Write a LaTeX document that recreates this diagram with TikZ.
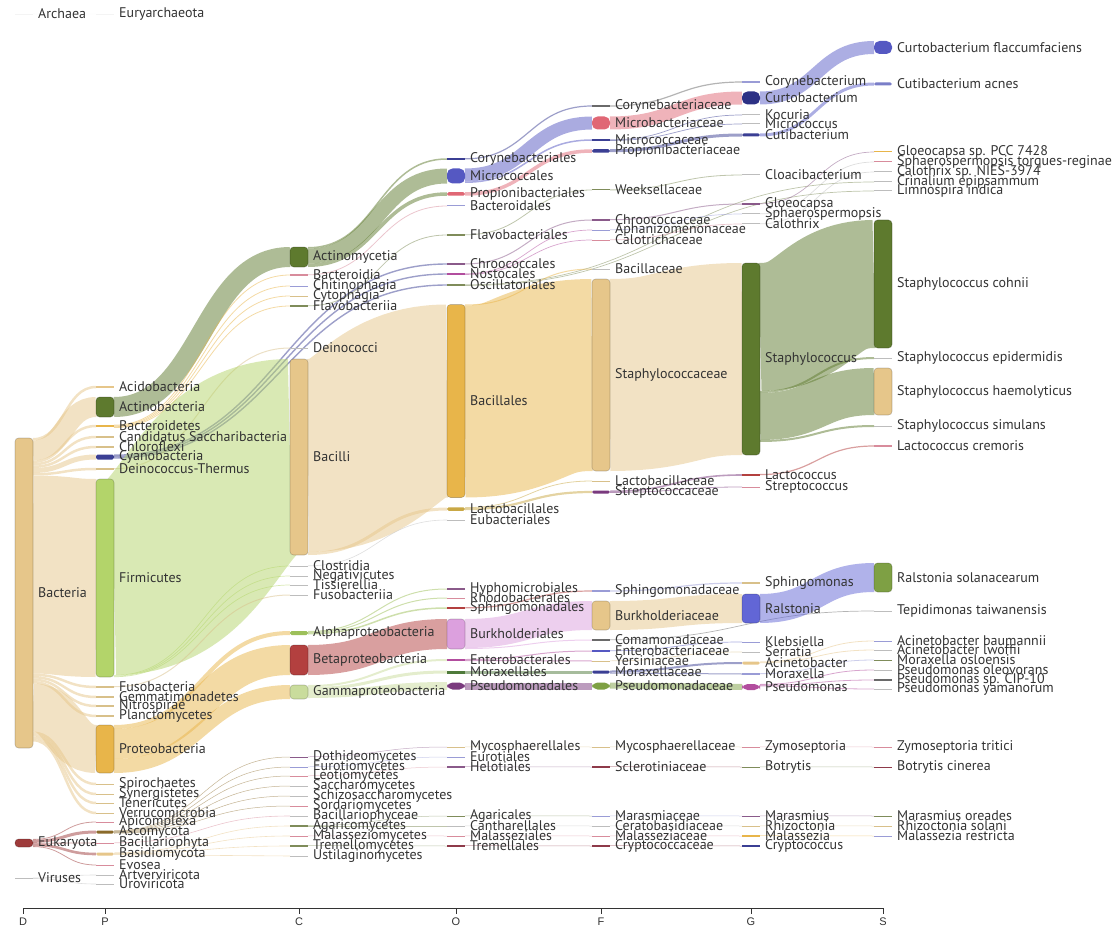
\documentclass[tikz,border=0pt]{standalone}
\usepackage{fontspec}
\setmainfont{PT Sans}
\newfontfamily\axfont{Liberation Sans}
\usetikzlibrary{calc,backgrounds}

\definecolor{txt}{HTML}{333333}
\definecolor{tanC}{HTML}{E6C68A}
\definecolor{oliveC}{HTML}{5E7A2E}
\definecolor{lgreenC}{HTML}{B3D46A}
\definecolor{goldC}{HTML}{E8B54A}
\definecolor{navyC}{HTML}{3B3F94}
\definecolor{dnavyC}{HTML}{2D3185}
\definecolor{bluepC}{HTML}{5558C2}
\definecolor{pinkC}{HTML}{E06775}
\definecolor{redC}{HTML}{B3403F}
\definecolor{dredC}{HTML}{9E3B3B}
\definecolor{lilacC}{HTML}{DCA0DE}
\definecolor{purpleC}{HTML}{7A3A7E}
\definecolor{greenC}{HTML}{7EA044}
\definecolor{palegC}{HTML}{C9DC9C}
\definecolor{blueC}{HTML}{6266D6}
\definecolor{magC}{HTML}{B24D9E}
\definecolor{agreenC}{HTML}{9DC05A}
\definecolor{brownC}{HTML}{8A6A2A}
\definecolor{lgoldC}{HTML}{C9A845}
\definecolor{greyC}{HTML}{BDBDBD}
\definecolor{faintC}{HTML}{F4F4F4}
\definecolor{dgreyC}{HTML}{6A6A6A}
\definecolor{lavC}{HTML}{9A9CD6}
\definecolor{roseC}{HTML}{D88C9C}
\definecolor{olvC}{HTML}{7F8C5A}
\definecolor{plumC}{HTML}{8A5A8A}
\definecolor{sandC}{HTML}{D8C08A}
\definecolor{dgreenC}{HTML}{4E7A3A}
\definecolor{drC}{HTML}{8E3A4A}
\definecolor{acnC}{HTML}{7A7EC8}
\definecolor{curtlC}{HTML}{5A5EC8}

\tikzset{
  bar/.style={rectangle, inner sep=0pt, outer sep=0pt, minimum width=18pt},
  big/.style={rounded corners=3.5pt, draw=black, draw opacity=0.22, line width=0.6pt},
  round/.style={rounded corners=5.5pt},
  pill/.style={rounded corners=1.6pt},
  lab/.style={anchor=west, inner sep=0pt, text=txt, font=\fontsize{14}{15}\selectfont},
  link/.style={draw opacity=0.5},
  axisline/.style={draw=txt, line width=0.9pt},
  axlab/.style={text=txt, font=\axfont\fontsize{11}{12}\selectfont, inner sep=0pt}
}

\def\xD{24}\def\xP{105}\def\xC{299}\def\xO{456}\def\xF{601}\def\xG{751}\def\xS{883}

% bar node with its label: [options]{name}{x}{y}{height}{colour}{label}
\newcommand\bnode[7][]{%
  \node[bar,#1,minimum height=#5pt,fill=#6] (#2) at (#3,#4) {};
  \node[lab] (#2-t) at ([xshift=5pt]#2.east) {#7};}

% links: \lsrc{source}{colour} then \flw{target}{width}
\newcommand\lsrc[2]{\gdef\cursrc{#1}\gdef\curcol{#2}\gdef\soffv{0}}
\newcommand\flw[2]{%
  \draw[link, line width=#2pt, draw=\curcol] let \p1=(\cursrc.north east), \p2=(#1.west),
     \p3=(\x1,{\y1-(\soffv+0.5*#2)*1pt}) in
     (\p3) .. controls ({0.5*\x3+0.5*\x2},\y3) and ({0.5*\x3+0.5*\x2},\y2) .. (\p2);%
  \pgfmathparse{\soffv+#2}\xdef\soffv{\pgfmathresult}}

\begin{document}
\begin{tikzpicture}[x=1pt,y=-1pt]
\useasboundingbox (0,0) rectangle (1112,931);

% ---------------- D
\bnode{archaea}{\xD}{14}{0.5}{faintC}{Archaea}
\bnode[big]{bacteria}{\xD}{593}{310}{tanC}{Bacteria}
\bnode[big]{eukaryota}{\xD}{843}{8}{dredC}{Eukaryota}
\bnode{viruses}{\xD}{878}{0.8}{greyC}{Viruses}

% ---------------- P
\bnode{eury}{\xP}{14}{0.5}{faintC}{Euryarchaeota}
\bnode{acido}{\xP}{387}{2}{tanC}{Acidobacteria}
\bnode[big]{actinob}{\xP}{407}{20}{oliveC}{Actinobacteria}
\bnode{bacteroidetes}{\xP}{426}{2.5}{goldC}{Bacteroidetes}
\bnode{candidatus}{\xP}{437}{1.5}{sandC}{Candidatus Saccharibacteria}
\bnode{chloroflexi}{\xP}{447}{1.5}{sandC}{Chloroflexi}
\bnode[pill]{cyanob}{\xP}{457}{5}{navyC}{Cyanobacteria}
\bnode{deino}{\xP}{469}{1.5}{sandC}{Deinococcus-Thermus}
\bnode[big]{firmicutes}{\xP}{578}{198}{lgreenC}{Firmicutes}
\bnode{fuso}{\xP}{687}{1.5}{sandC}{Fusobacteria}
\bnode{gemma}{\xP}{697}{1.5}{sandC}{Gemmatimonadetes}
\bnode{nitro}{\xP}{706}{1.5}{sandC}{Nitrospirae}
\bnode{plancto}{\xP}{716}{1.5}{sandC}{Planctomycetes}
\bnode[big]{proteob}{\xP}{749}{48}{goldC}{Proteobacteria}
\bnode{spiro}{\xP}{784}{1}{sandC}{Spirochaetes}
\bnode{syner}{\xP}{794}{1}{sandC}{Synergistetes}
\bnode{teneri}{\xP}{803}{1}{sandC}{Tenericutes}
\bnode{verruco}{\xP}{813}{1}{sandC}{Verrucomicrobia}
\bnode{apicom}{\xP}{822}{1}{roseC}{Apicomplexa}
\bnode[pill]{ascomy}{\xP}{832}{3}{brownC}{Ascomycota}
\bnode{bacillario}{\xP}{843}{1}{roseC}{Bacillariophyta}
\bnode[pill]{basidio}{\xP}{854}{3}{tanC}{Basidiomycota}
\bnode{evosea}{\xP}{865}{1}{roseC}{Evosea}
\bnode{artver}{\xP}{875}{1}{greyC}{Artverviricota}
\bnode{urovir}{\xP}{884}{1}{greyC}{Uroviricota}

% ---------------- C
\bnode[big]{actinomycetia}{\xC}{257}{20}{oliveC}{Actinomycetia}
\bnode{bacteroidia}{\xC}{275}{1.2}{roseC}{Bacteroidia}
\bnode{chitino}{\xC}{286}{1}{lavC}{Chitinophagia}
\bnode{cytoph}{\xC}{296}{1}{sandC}{Cytophagia}
\bnode{flavobacteriia}{\xC}{306}{1.2}{olvC}{Flavobacteriia}
\bnode{deinococci}{\xC}{348}{1}{greyC}{Deinococci}
\bnode[big]{bacilli}{\xC}{457}{196}{tanC}{Bacilli}
\bnode{clostridia}{\xC}{566}{1}{greyC}{Clostridia}
\bnode{negativ}{\xC}{576}{1}{greyC}{Negativicutes}
\bnode{tissier}{\xC}{585}{1}{greyC}{Tissierellia}
\bnode{fusobacteriia}{\xC}{595}{1}{greyC}{Fusobacteriia}
\bnode[pill]{alpha}{\xC}{633}{4}{agreenC}{Alphaproteobacteria}
\bnode[big]{beta}{\xC}{660}{30}{redC}{Betaproteobacteria}
\bnode[big]{gamma}{\xC}{692}{14}{palegC}{Gammaproteobacteria}
\bnode{dothideo}{\xC}{757}{1}{plumC}{Dothideomycetes}
\bnode{eurotio}{\xC}{767}{1}{lavC}{Eurotiomycetes}
\bnode{leotio}{\xC}{776}{1}{roseC}{Leotiomycetes}
\bnode{saccharo}{\xC}{786}{1}{greyC}{Saccharomycetes}
\bnode{schizo}{\xC}{796}{1}{greyC}{Schizosaccharomycetes}
\bnode{sordario}{\xC}{806}{1}{roseC}{Sordariomycetes}
\bnode{bacillariophyceae}{\xC}{816}{1}{greyC}{Bacillariophyceae}
\bnode{agarico}{\xC}{826}{1.5}{olvC}{Agaricomycetes}
\bnode{malassezio}{\xC}{836}{1}{roseC}{Malasseziomycetes}
\bnode{tremello}{\xC}{846}{1.2}{olvC}{Tremellomycetes}
\bnode{ustilagino}{\xC}{856}{1}{greyC}{Ustilaginomycetes}

% ---------------- O
\bnode{corynebales}{\xO}{159}{1.5}{navyC}{Corynebacteriales}
\bnode[round]{micrococcales}{\xO}{176}{15}{bluepC}{Micrococcales}
\bnode[pill]{propionibales}{\xO}{194}{3.5}{pinkC}{Propionibacteriales}
\bnode{bacteroidales}{\xO}{206}{1}{lavC}{Bacteroidales}
\bnode{flavobacteriales}{\xO}{235}{1.2}{olvC}{Flavobacteriales}
\bnode{chroococcales}{\xO}{264}{1.2}{plumC}{Chroococcales}
\bnode{nostocales}{\xO}{274}{1.2}{magC}{Nostocales}
\bnode{oscillatoriales}{\xO}{285}{1.2}{olvC}{Oscillatoriales}
\bnode[big]{bacillales}{\xO}{401}{193}{goldC}{Bacillales}
\bnode[pill]{lactobacillales}{\xO}{509}{3.5}{lgoldC}{Lactobacillales}
\bnode{eubacteriales}{\xO}{520}{1}{greyC}{Eubacteriales}
\bnode{hyphomicrob}{\xO}{589}{1.2}{plumC}{Hyphomicrobiales}
\bnode{rhodobact}{\xO}{598}{1}{roseC}{Rhodobacterales}
\bnode{sphingomonadales}{\xO}{608}{1.5}{redC}{Sphingomonadales}
\bnode[big]{burkholderiales}{\xO}{634}{30}{lilacC}{Burkholderiales}
\bnode{enterobacterales}{\xO}{660}{2}{magC}{Enterobacterales}
\bnode{moraxellales}{\xO}{672}{3}{dgreenC}{Moraxellales}
\bnode[round]{pseudomonadales}{\xO}{686}{7}{purpleC}{Pseudomonadales}
\bnode{mycosph}{\xO}{747}{1}{sandC}{Mycosphaerellales}
\bnode{eurotiales}{\xO}{757}{1}{lavC}{Eurotiales}
\bnode{helotiales}{\xO}{767}{1.2}{plumC}{Helotiales}
\bnode{agaricales}{\xO}{816}{1}{olvC}{Agaricales}
\bnode{cantharellales}{\xO}{826}{1}{greyC}{Cantharellales}
\bnode{malasseziales}{\xO}{836}{1}{roseC}{Malasseziales}
\bnode{tremellales}{\xO}{846}{1.2}{drC}{Tremellales}

% ---------------- F
\bnode{corynebaceae}{\xF}{106}{1.2}{dgreyC}{Corynebacteriaceae}
\bnode[round]{microbacteriaceae}{\xF}{123}{13}{pinkC}{Microbacteriaceae}
\bnode{micrococcaceae}{\xF}{140}{1.2}{navyC}{Micrococcaceae}
\bnode[pill]{propionibaceae}{\xF}{151}{3.5}{navyC}{Propionibacteriaceae}
\bnode{weeksellaceae}{\xF}{190}{1}{olvC}{Weeksellaceae}
\bnode{chroococcaceae}{\xF}{220}{1.5}{plumC}{Chroococcaceae}
\bnode{aphanizomenonaceae}{\xF}{230}{1}{lavC}{Aphanizomenonaceae}
\bnode{calotrichaceae}{\xF}{240}{1}{roseC}{Calotrichaceae}
\bnode{bacillaceae}{\xF}{269}{1}{greyC}{Bacillaceae}
\bnode[big]{staphylococcaceae}{\xF}{375}{192}{tanC}{Staphylococcaceae}
\bnode{lactobacillaceae}{\xF}{481}{1}{sandC}{Lactobacillaceae}
\bnode[pill]{streptococcaceae}{\xF}{492}{3}{purpleC}{Streptococcaceae}
\bnode{sphingomonadaceae}{\xF}{591}{1.2}{lavC}{Sphingomonadaceae}
\bnode[big]{burkholderiaceae}{\xF}{615.5}{29}{tanC}{Burkholderiaceae}
\bnode{comamonadaceae}{\xF}{640}{1.2}{dgreyC}{Comamonadaceae}
\bnode{enterobacteriaceae}{\xF}{651}{1.2}{bluepC}{Enterobacteriaceae}
\bnode{yersiniaceae}{\xF}{661}{1}{sandC}{Yersiniaceae}
\bnode[pill]{moraxellaceae}{\xF}{672}{3}{navyC}{Moraxellaceae}
\bnode[round]{pseudomonadaceae}{\xF}{686}{7}{greenC}{Pseudomonadaceae}
\bnode{mycosphaerellaceae}{\xF}{747}{1}{sandC}{Mycosphaerellaceae}
\bnode{sclerotiniaceae}{\xF}{767}{1.2}{drC}{Sclerotiniaceae}
\bnode{marasmiaceae}{\xF}{816}{1}{lavC}{Marasmiaceae}
\bnode{ceratobasidiaceae}{\xF}{826}{1}{greyC}{Ceratobasidiaceae}
\bnode{malasseziaceae}{\xF}{836}{1}{roseC}{Malasseziaceae}
\bnode{cryptococcaceae}{\xF}{846}{1.2}{drC}{Cryptococcaceae}

% ---------------- G
\bnode{corynebacterium}{\xG}{82}{1.2}{lavC}{Corynebacterium}
\bnode[round]{curtobacterium}{\xG}{98}{13}{dnavyC}{Curtobacterium}
\bnode{kocuria}{\xG}{115}{1}{greyC}{Kocuria}
\bnode{micrococcus}{\xG}{124}{1}{greyC}{Micrococcus}
\bnode[pill]{cutibacterium}{\xG}{135}{3}{navyC}{Cutibacterium}
\bnode{cloacibacterium}{\xG}{175}{1}{greyC}{Cloacibacterium}
\bnode{gloeocapsa}{\xG}{204}{1.2}{plumC}{Gloeocapsa}
\bnode{sphaerospermopsis}{\xG}{214}{1}{greyC}{Sphaerospermopsis}
\bnode{calothrix}{\xG}{224}{1}{greyC}{Calothrix}
\bnode[big]{staphylococcus}{\xG}{359}{192}{oliveC}{Staphylococcus}
\bnode{lactococcus}{\xG}{475}{2}{redC}{Lactococcus}
\bnode{streptococcus}{\xG}{487}{1}{roseC}{Streptococcus}
\bnode{sphingomonas}{\xG}{583}{1.5}{sandC}{Sphingomonas}
\bnode[big]{ralstonia}{\xG}{608.5}{29}{blueC}{Ralstonia}
\bnode{klebsiella}{\xG}{642}{1}{lavC}{Klebsiella}
\bnode{serratia}{\xG}{652}{1}{greyC}{Serratia}
\bnode[pill]{acinetobacter}{\xG}{663}{3}{tanC}{Acinetobacter}
\bnode{moraxella}{\xG}{674}{1.5}{lavC}{Moraxella}
\bnode[round]{pseudomonas}{\xG}{687}{6}{magC}{Pseudomonas}
\bnode{zymoseptoria}{\xG}{747}{1}{roseC}{Zymoseptoria}
\bnode{botrytis}{\xG}{767}{1}{olvC}{Botrytis}
\bnode{marasmius}{\xG}{816}{1}{plumC}{Marasmius}
\bnode{rhizoctonia}{\xG}{826}{1}{sandC}{Rhizoctonia}
\bnode{malassezia}{\xG}{836}{1.2}{goldC}{Malassezia}
\bnode{cryptococcus}{\xG}{846}{1.2}{navyC}{Cryptococcus}

% ---------------- S
\bnode[round]{curtoflacc}{\xS}{47.5}{13}{bluepC}{Curtobacterium flaccumfaciens}
\bnode[pill]{cutiacnes}{\xS}{84}{3}{acnC}{Cutibacterium acnes}
\bnode{gloeosp}{\xS}{152}{1}{goldC}{Gloeocapsa sp. PCC 7428}
\bnode{sphaerotr}{\xS}{162}{1}{roseC}{Sphaerospermopsis torques-reginae}
\bnode{calothrixsp}{\xS}{172}{1}{greyC}{Calothrix sp. NIES-3974}
\bnode{crinalium}{\xS}{182}{1}{greyC}{Crinalium epipsammum}
\bnode{limnospira}{\xS}{191}{1}{greyC}{Limnospira indica}
\bnode[big]{cohnii}{\xS}{284}{128}{oliveC}{Staphylococcus cohnii}
\bnode{epidermidis}{\xS}{358}{1}{greyC}{Staphylococcus epidermidis}
\bnode[big]{haemolyticus}{\xS}{391.5}{47}{tanC}{Staphylococcus haemolyticus}
\bnode{simulans}{\xS}{426}{1}{greyC}{Staphylococcus simulans}
\bnode{cremoris}{\xS}{446}{1.2}{roseC}{Lactococcus cremoris}
\bnode[big]{ralstsol}{\xS}{577.5}{29}{greenC}{Ralstonia solanacearum}
\bnode{tepidimonas}{\xS}{611}{1}{greyC}{Tepidimonas taiwanensis}
\bnode{acinbaum}{\xS}{641}{1}{lavC}{Acinetobacter baumannii}
\bnode{acinlwof}{\xS}{650}{1}{greyC}{Acinetobacter lwoffii}
\bnode{moraxosl}{\xS}{660}{1}{olvC}{Moraxella osloensis}
\bnode{pseuoleo}{\xS}{670}{1}{greyC}{Pseudomonas oleovorans}
\bnode{pseucip}{\xS}{680}{1.2}{dgreyC}{Pseudomonas sp. CIP-10}
\bnode{pseuyam}{\xS}{689}{1}{greyC}{Pseudomonas yamanorum}
\bnode{zymotritici}{\xS}{747}{1}{roseC}{Zymoseptoria tritici}
\bnode{botrytiscin}{\xS}{767}{1}{drC}{Botrytis cinerea}
\bnode{marasore}{\xS}{816}{1}{olvC}{Marasmius oreades}
\bnode{rhizosol}{\xS}{826}{1}{sandC}{Rhizoctonia solani}
\bnode{malassres}{\xS}{836}{1}{lavC}{Malassezia restricta}

% ---------------- links
\begin{pgfonlayer}{background}
\lsrc{archaea}{faintC}\flw{eury}{0.4}
\lsrc{bacteria}{tanC}
\flw{acido}{2.5}\flw{actinob}{20}\flw{bacteroidetes}{2.5}\flw{candidatus}{2.5}
\flw{chloroflexi}{2.5}\flw{cyanob}{5}\flw{deino}{2.5}\flw{firmicutes}{198}
\flw{fuso}{2.5}\flw{gemma}{2.5}\flw{nitro}{2.5}\flw{plancto}{2.5}\flw{proteob}{48}
\flw{spiro}{2.5}\flw{syner}{2.5}\flw{teneri}{2.5}\flw{verruco}{2.5}
\lsrc{eukaryota}{dredC}
\flw{apicom}{0.8}\flw{ascomy}{3}\flw{bacillario}{0.8}\flw{basidio}{2.6}\flw{evosea}{0.8}
\lsrc{viruses}{greyC}\flw{artver}{0.6}\flw{urovir}{0.6}

\lsrc{actinob}{oliveC}\flw{actinomycetia}{20}
\lsrc{bacteroidetes}{goldC}\flw{bacteroidia}{0.8}\flw{chitino}{0.8}\flw{cytoph}{0.8}\flw{flavobacteriia}{0.8}
\lsrc{cyanob}{navyC}\flw{chroococcales}{1.4}\flw{nostocales}{1.4}\flw{oscillatoriales}{1.4}
\lsrc{deino}{sandC}\flw{deinococci}{1}
\lsrc{firmicutes}{lgreenC}\flw{bacilli}{196}\flw{clostridia}{0.7}\flw{negativ}{0.7}\flw{tissier}{0.7}
\lsrc{fuso}{sandC}\flw{fusobacteriia}{1}
\lsrc{proteob}{goldC}\flw{alpha}{4}\flw{beta}{30}\flw{gamma}{14}
\lsrc{ascomy}{brownC}\flw{dothideo}{0.5}\flw{eurotio}{0.5}\flw{leotio}{0.5}\flw{saccharo}{0.5}\flw{schizo}{0.5}\flw{sordario}{0.5}
\lsrc{bacillario}{roseC}\flw{bacillariophyceae}{0.6}
\lsrc{basidio}{tanC}\flw{agarico}{0.6}\flw{malassezio}{0.6}\flw{tremello}{0.6}\flw{ustilagino}{0.6}

\lsrc{actinomycetia}{oliveC}\flw{corynebales}{1.5}\flw{micrococcales}{15}\flw{propionibales}{3.5}
\lsrc{bacteroidia}{roseC}\flw{bacteroidales}{0.8}
\lsrc{flavobacteriia}{olvC}\flw{flavobacteriales}{0.8}
\lsrc{bacilli}{tanC}\flw{bacillales}{193}\flw{lactobacillales}{3}
\lsrc{clostridia}{greyC}\flw{eubacteriales}{0.6}
\lsrc{alpha}{agreenC}\flw{hyphomicrob}{1}\flw{rhodobact}{1}\flw{sphingomonadales}{1.5}
\lsrc{beta}{redC}\flw{burkholderiales}{30}
\lsrc{gamma}{palegC}\flw{enterobacterales}{2}\flw{moraxellales}{3}\flw{pseudomonadales}{8}
\lsrc{dothideo}{plumC}\flw{mycosph}{0.5}
\lsrc{eurotio}{lavC}\flw{eurotiales}{0.5}
\lsrc{leotio}{roseC}\flw{helotiales}{0.5}
\lsrc{agarico}{olvC}\flw{agaricales}{0.5}\flw{cantharellales}{0.5}
\lsrc{malassezio}{roseC}\flw{malasseziales}{0.5}
\lsrc{tremello}{olvC}\flw{tremellales}{0.5}

\lsrc{corynebales}{navyC}\flw{corynebaceae}{1.2}
\lsrc{micrococcales}{bluepC}\flw{microbacteriaceae}{13}\flw{micrococcaceae}{1.5}
\lsrc{propionibales}{pinkC}\flw{propionibaceae}{3.5}
\lsrc{flavobacteriales}{olvC}\flw{weeksellaceae}{0.8}
\lsrc{chroococcales}{plumC}\flw{chroococcaceae}{1}
\lsrc{nostocales}{magC}\flw{aphanizomenonaceae}{0.7}\flw{calotrichaceae}{0.7}
\lsrc{oscillatoriales}{olvC}\flw{crinalium}{0.7}\flw{limnospira}{0.7}
\lsrc{bacillales}{goldC}\flw{bacillaceae}{1}\flw{staphylococcaceae}{192}
\lsrc{lactobacillales}{lgoldC}\flw{lactobacillaceae}{0.8}\flw{streptococcaceae}{2.2}
\lsrc{sphingomonadales}{redC}\flw{sphingomonadaceae}{1.2}
\lsrc{burkholderiales}{lilacC}\flw{burkholderiaceae}{29}\flw{comamonadaceae}{1}
\lsrc{enterobacterales}{magC}\flw{enterobacteriaceae}{1}\flw{yersiniaceae}{1}
\lsrc{moraxellales}{dgreenC}\flw{moraxellaceae}{3}
\lsrc{pseudomonadales}{purpleC}\flw{pseudomonadaceae}{7}
\lsrc{mycosph}{sandC}\flw{mycosphaerellaceae}{0.5}
\lsrc{helotiales}{plumC}\flw{sclerotiniaceae}{0.5}
\lsrc{agaricales}{olvC}\flw{marasmiaceae}{0.5}
\lsrc{cantharellales}{greyC}\flw{ceratobasidiaceae}{0.5}
\lsrc{malasseziales}{roseC}\flw{malasseziaceae}{0.5}
\lsrc{tremellales}{drC}\flw{cryptococcaceae}{0.5}

\lsrc{corynebaceae}{dgreyC}\flw{corynebacterium}{1.2}
\lsrc{microbacteriaceae}{pinkC}\flw{curtobacterium}{13}
\lsrc{micrococcaceae}{navyC}\flw{kocuria}{0.7}\flw{micrococcus}{0.7}
\lsrc{propionibaceae}{navyC}\flw{cutibacterium}{3}
\lsrc{weeksellaceae}{olvC}\flw{cloacibacterium}{0.8}
\lsrc{chroococcaceae}{plumC}\flw{gloeocapsa}{1}
\lsrc{aphanizomenonaceae}{lavC}\flw{sphaerospermopsis}{0.7}
\lsrc{calotrichaceae}{roseC}\flw{calothrix}{0.7}
\lsrc{staphylococcaceae}{tanC}\flw{staphylococcus}{192}
\lsrc{streptococcaceae}{purpleC}\flw{lactococcus}{1.6}\flw{streptococcus}{0.8}
\lsrc{sphingomonadaceae}{lavC}\flw{sphingomonas}{1.2}
\lsrc{burkholderiaceae}{tanC}\flw{ralstonia}{29}
\lsrc{comamonadaceae}{dgreyC}\flw{tepidimonas}{0.7}
\lsrc{enterobacteriaceae}{bluepC}\flw{klebsiella}{0.7}
\lsrc{yersiniaceae}{sandC}\flw{serratia}{0.7}
\lsrc{moraxellaceae}{navyC}\flw{acinetobacter}{2}\flw{moraxella}{1}
\lsrc{pseudomonadaceae}{greenC}\flw{pseudomonas}{6}
\lsrc{mycosphaerellaceae}{sandC}\flw{zymoseptoria}{0.5}
\lsrc{sclerotiniaceae}{drC}\flw{botrytis}{0.5}
\lsrc{marasmiaceae}{lavC}\flw{marasmius}{0.5}
\lsrc{ceratobasidiaceae}{greyC}\flw{rhizoctonia}{0.5}
\lsrc{malasseziaceae}{roseC}\flw{malassezia}{0.5}
\lsrc{cryptococcaceae}{drC}\flw{cryptococcus}{0.5}

\lsrc{curtobacterium}{curtlC}\flw{curtoflacc}{13}
\lsrc{cutibacterium}{curtlC}\flw{cutiacnes}{3}
\lsrc{gloeocapsa}{plumC}\flw{gloeosp}{0.7}
\lsrc{sphaerospermopsis}{greyC}\flw{sphaerotr}{0.7}
\lsrc{calothrix}{greyC}\flw{calothrixsp}{0.7}
\lsrc{staphylococcus}{oliveC}\flw{cohnii}{128}\flw{epidermidis}{2}\flw{haemolyticus}{47}\flw{simulans}{2}
\lsrc{lactococcus}{redC}\flw{cremoris}{1.2}
\lsrc{ralstonia}{blueC}\flw{ralstsol}{29}
\lsrc{acinetobacter}{tanC}\flw{acinbaum}{0.8}\flw{acinlwof}{0.8}
\lsrc{moraxella}{lavC}\flw{moraxosl}{0.8}
\lsrc{pseudomonas}{magC}\flw{pseuoleo}{0.8}\flw{pseucip}{0.8}\flw{pseuyam}{0.8}
\lsrc{zymoseptoria}{roseC}\flw{zymotritici}{0.5}
\lsrc{botrytis}{olvC}\flw{botrytiscin}{0.5}
\lsrc{marasmius}{plumC}\flw{marasore}{0.5}
\lsrc{rhizoctonia}{sandC}\flw{rhizosol}{0.5}
\lsrc{malassezia}{goldC}\flw{malassres}{0.5}
\end{pgfonlayer}

% ---------------- axis
\draw[axisline] (23,908) -- (883,908);
\foreach \x/\l in {23/D,105/P,299/C,456/O,601/F,751/G,883/S}{
  \draw[axisline] (\x,908) -- (\x,914);
  \node[axlab] (ax-\l) at (\x,922) {\l};
}
\end{tikzpicture}
\end{document}
